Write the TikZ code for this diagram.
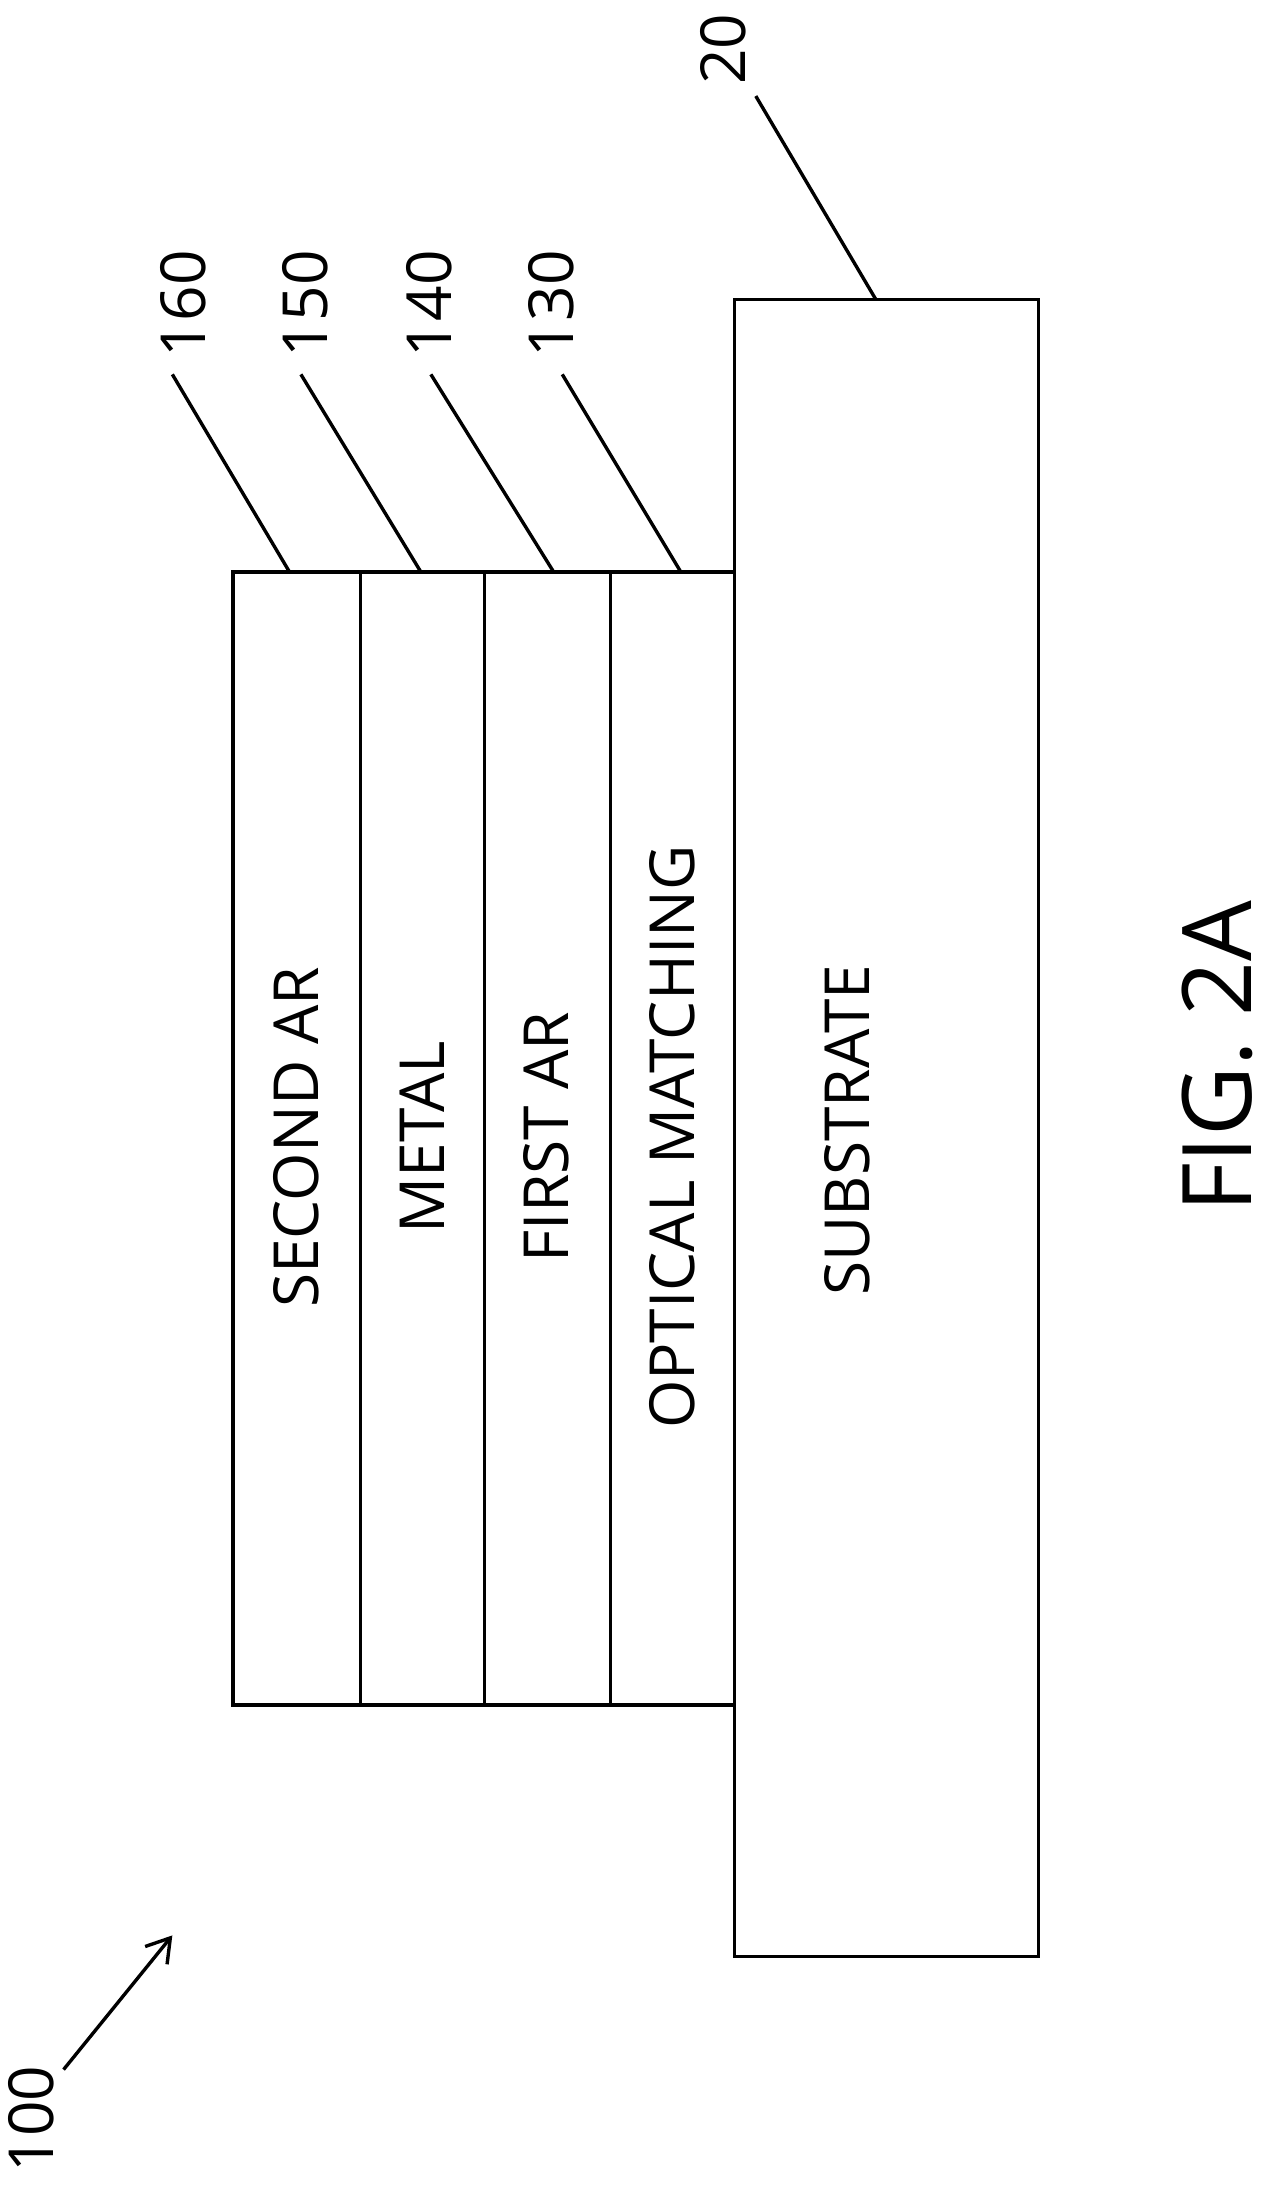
\documentclass[tikz,border=0pt]{standalone}
\usepackage{fontspec}
\usetikzlibrary{arrows.meta}
\setmainfont{Open Sans}
\begin{document}
\begin{tikzpicture}[x=0.5pt,y=-0.5pt,line width=1.2pt,
  lbl/.style={rotate=90,font=\fontsize{22}{26}\selectfont,inner sep=0pt},
  num/.style={rotate=90,font=\fontsize{22}{26}\selectfont,inner sep=0pt}]
\useasboundingbox (0,0) rectangle (905,1563);
\draw (520,212) rectangle (735,1385);
\node[coordinate] (sub) at (620,212) {};
\draw (165,405) rectangle (255,1207);
\draw (255,405) rectangle (343,1207);
\draw (343,405) rectangle (432,1207);
\draw (432,405) rectangle (520,1207);
\node[lbl] (t1) at (210,805) {SECOND AR};
\node[lbl] (t2) at (299,805) {METAL};
\node[lbl] (t3) at (387,805) {FIRST AR};
\node[lbl] (t4) at (476,805) {OPTICAL MATCHING};
\node[lbl] (t5) at (600,800) {SUBSTRATE};
\node[rotate=90,font=\fontsize{34}{40}\selectfont] (fig) at (862,748) {FIG. 2A};
\node[num] (n160) at (130,215) {160};
\node[num] (n150) at (216,215) {150};
\node[num] (n140) at (304,215) {140};
\node[num] (n130) at (390,215) {130};
\node[num] (n20) at (512,35) {20};
\node[num] (n100) at (22,1500) {100};
\coordinate (a1) at (205,405); \coordinate (b1) at (122,265);
\coordinate (a2) at (298,405); \coordinate (b2) at (213,265);
\coordinate (a3) at (392,405); \coordinate (b3) at (305,265);
\coordinate (a4) at (482,405); \coordinate (b4) at (398,265);
\coordinate (b5) at (535,68);
\draw (a1)--(b1); \draw (a2)--(b2); \draw (a3)--(b3); \draw (a4)--(b4);
\draw (sub)--(b5);
\coordinate (p0) at (45,1465); \coordinate (p1) at (122,1370);
\draw[-{Straight Barb[length=8pt,width=10pt]}] (p0)--(p1);
\end{tikzpicture}
\end{document}
